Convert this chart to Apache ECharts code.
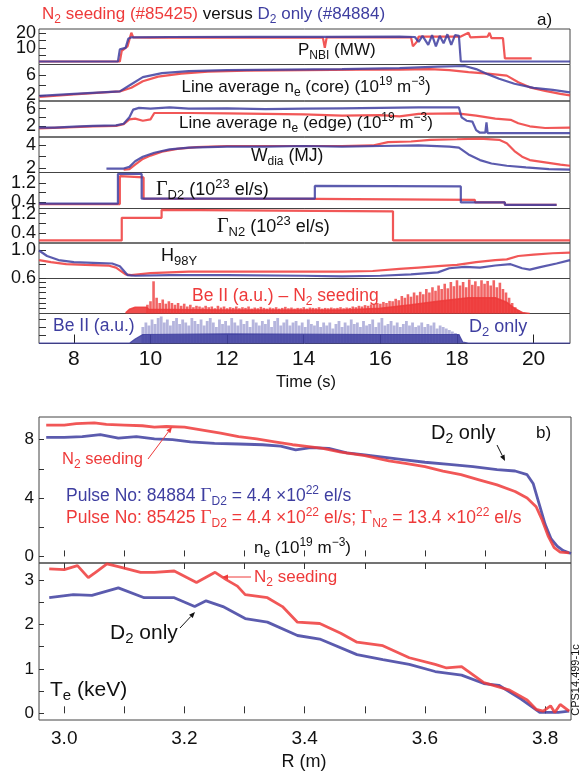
<!DOCTYPE html>
<html>
<head>
<meta charset="utf-8">
<script src="https://cdn.jsdelivr.net/npm/echarts@6/dist/echarts.min.js"></script>
<style>html,body{margin:0;padding:0;background:#fff}#container{width:581px;height:774px}</style>
</head>
<body>
<div id="container"></div>
<script>
// colours of the two pulses
var RED = '#ee3a3a';
var BLUE = '#3e3ea0';

// ---- panel a): time traces [t (s), value] ----
var pnbiRed = [[7.09,1],[9.2,1],[9.25,8],[9.4,11],[9.5,20],[9.55,17],[10,16.8],[11.5,17],[14.5,16.8],[14.55,10],[14.6,17],[16.8,17],[16.85,11],[16.95,14],[17.0,17.5],[18.1,17.5],[18.3,20],[18.35,17],[18.8,17.5],[18.85,20],[18.9,16.5],[19.2,16.5],[19.25,3],[19.95,3]];
var pnbiBlue = [[7.09,1],[9.15,1],[9.2,9],[9.35,10],[9.42,16],[9.5,17],[10.5,17.2],[12.6,17.3],[14.5,17.3],[16.5,17.5],[16.9,17.2],[17.0,14],[17.1,18],[17.25,12],[17.35,18.5],[17.45,11],[17.55,18],[17.65,13],[17.75,19],[17.85,12],[17.95,18.5],[18.05,18],[18.1,1],[20.95,1]];

var coreRed = [[7.1,1.7],[8,2.2],[9.2,2.8],[9.5,3.5],[9.8,4.8],[10.2,5.7],[10.8,6.3],[11.5,6.7],[12.5,6.9],[14,7.0],[15.5,7.1],[16.5,7.1],[17.3,7.2],[17.8,7.0],[18.3,6.6],[18.8,6.3],[19.3,5.9],[19.6,4.6],[19.9,3.6],[20.3,2.9],[20.7,2.3],[20.95,2.0]];
var coreBlue = [[7.1,1.9],[8,2.3],[9.2,2.8],[9.5,4.2],[9.8,5.6],[10.3,6.4],[11,6.8],[12,7.0],[13.5,7.1],[15,7.2],[16.5,7.4],[17.5,7.7],[18.2,7.8],[18.5,7.2],[18.8,6.2],[19.1,5.3],[19.5,4.3],[20,3.5],[20.5,3.1],[20.95,2.6]];

var edgeRed = [[7.09,1.4],[8,1.7],[8.5,1.9],[9.1,2.0],[9.3,2.4],[9.45,3.5],[9.6,3.7],[9.8,3.2],[10,3.5],[10.1,5.0],[11,5.0],[12,4.9],[13,4.8],[14,4.7],[15,4.4],[16,4.5],[16.5,4.2],[17,4.8],[18,4.9],[18.5,4.4],[19,3.7],[19.4,3.4],[19.6,2.6],[19.9,1.9],[20.3,1.5],[20.95,1.6]];
var edgeBlue = [[7.09,1.6],[7.5,1.6],[8,1.8],[8.5,2.0],[9.1,2.1],[9.3,2.5],[9.45,4],[9.55,5.8],[9.7,6.2],[10,6.0],[10.5,6.3],[11,6.0],[12,6.1],[13,5.9],[14,6.0],[15,6.1],[16,6.2],[17,6.3],[18.05,6.3],[18.12,4.0],[18.25,3.2],[18.4,3.0],[18.5,1.0],[18.6,0.4],[18.74,0.4],[18.77,2.8],[18.8,0.3],[20.95,0.3]];

var wdiaRed = [[9.3,1.85],[9.45,1.9],[9.6,2.3],[9.8,2.8],[10,3.1],[10.3,3.45],[10.7,3.7],[11.2,3.85],[12,3.95],[13,3.95],[14,3.95],[15,3.95],[15.8,4.0],[16.2,4.3],[16.8,4.35],[17.3,4.5],[18,4.55],[18.6,4.6],[19.1,4.5],[19.3,4.2],[19.5,3.5],[19.7,3.0],[19.9,2.7],[20.3,2.5],[20.7,2.3],[20.95,2.2]];
var wdiaBlue = [[8.85,1.95],[9.3,1.95],[9.45,2.1],[9.6,2.6],[9.8,3.0],[10.1,3.35],[10.5,3.65],[11,3.8],[12,3.9],[13,3.9],[14,3.95],[15,3.9],[16,3.95],[17,4.0],[17.8,3.9],[18.05,3.8],[18.3,3.2],[18.6,2.7],[18.9,2.4],[19.3,2.2],[19.8,2.05],[20.4,1.9],[20.95,1.85]];

var gD2Red = [[7.09,0.33],[9.2,0.33],[9.2,1.47],[9.82,1.42],[9.82,0.55],[14.3,0.54],[18.47,0.5],[18.47,0.4],[19.25,0.4],[19.25,0.3],[20.6,0.3]];
var gD2Blue = [[7.09,0.35],[9.15,0.35],[9.15,1.56],[9.77,1.56],[9.77,0.55],[14.29,0.55],[14.29,1.07],[18.1,1.05],[18.1,0.4],[19.25,0.4],[19.25,0.3],[20.6,0.3]];

var gN2Red = [[7.09,0.08],[9.25,0.08],[9.25,1.03],[10.29,1.03],[10.29,1.36],[16.33,1.3],[16.33,0.08],[20.95,0.08]];

var h98Red = [[7.09,0.86],[7.4,0.83],[7.8,0.8],[8.3,0.79],[8.9,0.78],[9.1,0.75],[9.35,0.65],[9.5,0.64],[10,0.67],[11,0.69],[12,0.69],[13,0.69],[14,0.69],[15,0.69],[15.8,0.7],[16.5,0.73],[17,0.75],[17.5,0.77],[18,0.79],[18.5,0.83],[19,0.86],[19.3,0.87],[19.6,0.92],[20,0.94],[20.5,0.96],[20.95,0.97]];
var h98Blue = [[7.09,1.0],[7.3,0.92],[7.6,0.86],[8.0,0.83],[8.5,0.82],[9.0,0.81],[9.2,0.77],[9.4,0.64],[9.6,0.63],[10.5,0.64],[12,0.64],[14,0.63],[15,0.62],[16,0.63],[16.8,0.65],[17.5,0.68],[17.8,0.74],[18.2,0.76],[18.6,0.75],[19.0,0.78],[19.4,0.8],[19.7,0.74],[19.9,0.72],[20.2,0.76],[20.6,0.81],[20.95,0.86]];

// Be II: dense floor + spikes (spikes sampled every 0.08 s)
var beRedFloor = [[9.35,0.02],[9.45,0.12],[9.6,0.18],[9.9,0.18],[9.95,0.12],[12,0.1],[15,0.1],[16,0.15],[16.8,0.25],[17.5,0.35],[18.3,0.45],[19,0.45],[19.3,0.32],[19.5,0.15],[19.7,0.03],[19.9,0]];
var beRedStart = 9.92;
var beRedSpikes = [
  0.25,0.35,0.92,0.45,0.3,0.4,0.28,0.35,0.3,0.25,
  0.3,0.22,0.28,0.2,0.25,0.18,0.22,0.2,0.17,0.22,
  0.18,0.2,0.15,0.22,0.17,0.2,0.15,0.18,0.16,0.2,
  0.15,0.18,0.16,0.2,0.14,0.17,0.15,0.19,0.16,0.14,
  0.17,0.15,0.18,0.14,0.16,0.19,0.15,0.17,0.14,0.16,
  0.15,0.18,0.14,0.17,0.16,0.15,0.18,0.14,0.16,0.15,
  0.17,0.15,0.16,0.18,0.15,0.17,0.16,0.2,0.18,0.22,
  0.2,0.24,0.22,0.26,0.25,0.3,0.28,0.33,0.3,0.36,
  0.35,0.42,0.38,0.5,0.45,0.55,0.48,0.6,0.52,0.62,
  0.55,0.7,0.6,0.75,0.65,0.8,0.7,0.85,0.72,0.9,
  0.78,0.95,0.8,0.9,0.75,0.97,0.82,0.92,0.78,0.95,
  0.85,0.93,0.8,0.95,0.75,0.88,0.7,0.6,0.45,0.3,
  0.18,0.1,0.05
];
var beBlueFloor = [[7.09,0.01],[9.45,0.01],[9.6,0.15],[9.8,0.3],[12,0.32],[16,0.3],[18.05,0.3],[18.15,0.05],[18.3,0.01],[20.95,0.01]];
var beBlueStart = 9.8;
var beBlueSpikes = [
  0.55,0.7,0.6,0.8,0.65,0.85,0.9,0.7,0.8,0.6,
  0.75,0.85,0.65,0.8,0.7,0.6,0.85,0.75,0.65,0.8,
  0.6,0.75,0.85,0.7,0.55,0.8,0.65,0.75,0.6,0.85,
  0.7,0.6,0.8,0.65,0.75,0.55,0.8,0.7,0.6,0.75,
  0.65,0.8,0.55,0.75,0.85,0.6,0.7,0.8,0.6,0.7,
  0.75,0.6,0.7,0.55,0.8,0.65,0.6,0.75,0.55,0.7,
  0.6,0.7,0.5,0.65,0.75,0.55,0.7,0.6,0.8,0.65,
  0.7,0.55,0.75,0.6,0.65,0.8,0.55,0.7,0.85,0.6,
  0.65,0.75,0.6,0.7,0.55,0.65,0.75,0.6,0.7,0.55,
  0.6,0.7,0.55,0.65,0.6,0.7,0.5,0.6,0.55,0.5,
  0.45,0.4,0.35,0.3
];
var spikeStep = 0.08;

// ---- panel b): profiles [R (m), value] ----
var neRed = [[2.97,9.0],[3.0,9.0],[3.02,9.1],[3.05,9.15],[3.07,9.05],[3.1,9.0],[3.13,8.95],[3.15,8.85],[3.17,8.9],[3.2,8.85],[3.23,8.65],[3.26,8.45],[3.29,8.2],[3.32,8.05],[3.35,7.85],[3.38,7.65],[3.4,7.55],[3.43,7.4],[3.46,7.15],[3.5,6.9],[3.54,6.55],[3.57,6.35],[3.6,6.15],[3.63,5.85],[3.66,5.6],[3.69,5.25],[3.72,4.9],[3.75,4.45],[3.77,4.0],[3.785,3.4],[3.795,2.5],[3.805,1.4],[3.815,0.6],[3.825,0.3],[3.84,0.25]];
var neBlue = [[2.97,8.15],[3.0,8.15],[3.03,8.2],[3.06,8.35],[3.09,8.1],[3.12,8.2],[3.15,8.05],[3.18,8.0],[3.21,7.85],[3.25,7.75],[3.29,7.7],[3.33,7.65],[3.36,7.55],[3.385,7.3],[3.41,7.45],[3.44,7.4],[3.47,7.1],[3.5,6.95],[3.53,6.8],[3.56,6.65],[3.6,6.45],[3.64,6.3],[3.68,6.15],[3.72,5.95],[3.75,5.85],[3.77,5.6],[3.78,5.0],[3.79,3.6],[3.8,2.2],[3.81,1.2],[3.82,0.7],[3.83,0.4],[3.843,0.2]];
var teRed = [[2.975,3.25],[3.0,3.23],[3.022,3.32],[3.04,3.05],[3.055,3.2],[3.071,3.36],[3.09,3.3],[3.127,3.17],[3.15,3.17],[3.183,3.2],[3.22,2.94],[3.251,3.17],[3.27,3.0],[3.288,2.86],[3.301,2.67],[3.338,2.6],[3.363,2.4],[3.388,2.05],[3.425,2.02],[3.46,1.8],[3.487,1.6],[3.53,1.52],[3.574,1.25],[3.617,1.1],[3.636,1.02],[3.661,1.05],[3.698,0.69],[3.741,0.52],[3.77,0.3],[3.785,0.09],[3.797,0.05],[3.809,0.17],[3.816,0.02],[3.825,0.2],[3.84,0.05]];
var teBlue = [[2.975,2.6],[3.015,2.67],[3.046,2.65],[3.09,2.82],[3.133,2.6],[3.183,2.6],[3.217,2.4],[3.236,2.53],[3.264,2.4],[3.301,2.13],[3.338,2.05],[3.388,1.75],[3.425,1.67],[3.487,1.32],[3.53,1.21],[3.574,1.1],[3.617,0.94],[3.661,0.86],[3.698,0.67],[3.723,0.63],[3.76,0.32],[3.791,0.02],[3.822,0.02],[3.84,0.05]];

// tick values
var timeTicks = [8,10,12,14,16,18,20];
var rTicks = [3.0,3.1,3.2,3.3,3.4,3.5,3.6,3.7,3.8];
var rLabels = [3.0,3.2,3.4,3.6,3.8];

var FONT = 'Liberation Sans';

//图表初始化
var dom = document.getElementById('container');
var myChart = echarts.init(dom, null, {renderer: 'canvas'});

// grid boxes of panel a (top, height in px)
var aGrids = [[29,35.5],[64.5,36.5],[101,36],[137,35.5],[172.5,36],[208.5,34.5],[243,35.5],[278.5,35],[313.5,30]];
var aY = [
  {min:-1, max:22.5, ticks:[5,10,15,20], labels:[10,20], fmt:0},
  {min:0.9, max:8.1, ticks:[2,4,6], labels:[2,6], fmt:0},
  {min:-0.6, max:7.8, ticks:[2,4,6], labels:[2,6], fmt:0},
  {min:1.6, max:4.75, ticks:[2,3,4], labels:[2,4], fmt:0},
  {min:0.15, max:1.62, ticks:[0.4,0.8,1.2], labels:[0.4,1.2], fmt:1},
  {min:-0.03, max:1.42, ticks:[0.4,0.8,1.2], labels:[0.4,1.2], fmt:1},
  {min:0.59, max:1.11, ticks:[0.6,0.8,1.0], labels:[0.6,1.0], fmt:1},
  {min:0, max:1, ticks:[0.15,0.3,0.45,0.6,0.75,0.9], labels:[], fmt:0},
  {min:0, max:1, ticks:[0.27,0.55,0.82], labels:[], fmt:0}
];

var grids = [], xAxes = [], yAxes = [], labelAxes = [], series = [];

aGrids.forEach(function (g, i) {
  grids.push({left: 39, width: 531, top: g[0], height: g[1], show: true, borderColor: '#444', borderWidth: 1, outerBoundsMode: 'none'});
  var last = i === aGrids.length - 1;
  xAxes.push({
    type: 'value', gridIndex: i, min: 7.09, max: 20.95,
    axisLine: {show: false}, splitLine: {show: false},
    axisTick: {show: last, inside: true, length: 9, lineStyle: {color: '#222'}, customValues: timeTicks},
    axisLabel: {show: last, customValues: timeTicks, fontSize: 21, color: '#111', fontFamily: FONT, margin: 5}
  });
  var c = aY[i];
  // main axis: ticks only
  yAxes.push({
    type: 'value', gridIndex: i, position: 'left', min: c.min, max: c.max,
    axisLine: {show: false}, splitLine: {show: false},
    axisTick: {inside: true, length: 7, lineStyle: {color: '#333'}, customValues: c.ticks},
    axisLabel: {show: false}
  });
  // one extra axis per label so that close labels are not dropped
  c.labels.forEach(function (v) {
    labelAxes.push({
      type: 'value', gridIndex: i, position: 'left', offset: 0, min: c.min, max: c.max,
      axisLine: {show: false}, splitLine: {show: false}, axisTick: {show: false},
      axisLabel: {customValues: [v], fontSize: 18, color: '#111', fontFamily: FONT, margin: 3,
        formatter: function (x) { return c.fmt ? x.toFixed(c.fmt) : String(x); }}
    });
  });
});

// panel b grids
grids.push({left: 39, width: 532, top: 417, height: 146, show: true, borderColor: '#444', borderWidth: 1, outerBoundsMode: 'none'});
grids.push({left: 39, width: 532, top: 563, height: 157, show: true, borderColor: '#444', borderWidth: 1, outerBoundsMode: 'none'});
xAxes.push({
  type: 'value', gridIndex: 9, min: 2.958, max: 3.843,
  axisLine: {show: false}, splitLine: {show: false},
  axisTick: {inside: true, length: 6, lineStyle: {color: '#333'}, customValues: rTicks},
  axisLabel: {show: false}
});
xAxes.push({
  type: 'value', gridIndex: 10, min: 2.958, max: 3.843,
  axisLine: {show: false}, splitLine: {show: false},
  axisTick: {inside: true, length: 7, lineStyle: {color: '#333'}, customValues: rTicks},
  axisLabel: {customValues: rLabels, fontSize: 19, color: '#111', fontFamily: FONT, margin: 9,
    formatter: function (v) { return v.toFixed(1); }}
});
xAxes.push({
  type: 'value', gridIndex: 10, position: 'top', min: 2.958, max: 3.843,
  axisLine: {show: false}, splitLine: {show: false},
  axisTick: {inside: true, length: 6, lineStyle: {color: '#333'}, customValues: rTicks},
  axisLabel: {show: false}
});
yAxes.push({
  type: 'value', gridIndex: 9, min: -0.45, max: 9.55,
  axisLine: {show: false}, splitLine: {show: false},
  axisTick: {inside: true, length: 5, lineStyle: {color: '#333'}, customValues: [0,2,4,6,8]},
  axisLabel: {customValues: [0,4,8], fontSize: 17, color: '#111', fontFamily: FONT, margin: 5}
});
yAxes.push({
  type: 'value', gridIndex: 10, min: -0.15, max: 3.38,
  axisLine: {show: false}, splitLine: {show: false},
  axisTick: {inside: true, length: 5, lineStyle: {color: '#333'}, customValues: [0,0.5,1,1.5,2,2.5,3]},
  axisLabel: {customValues: [0,1,2,3], fontSize: 17, color: '#111', fontFamily: FONT, margin: 5}
});
yAxes = yAxes.concat(labelAxes);

function line(data, color, xi, yi, w) {
  return {type: 'line', data: data, xAxisIndex: xi, yAxisIndex: yi, showSymbol: false, silent: true,
    lineStyle: {color: color, width: w || 2.2, opacity: 0.85}, itemStyle: {color: color}};
}
function spikes(start, hs) {
  return hs.map(function (h, i) { return [+(start + i * spikeStep).toFixed(3), h]; });
}

series.push(line(pnbiRed, RED, 0, 0), line(pnbiBlue, BLUE, 0, 0));
series.push(line(coreRed, RED, 1, 1), line(coreBlue, BLUE, 1, 1));
series.push(line(edgeRed, RED, 2, 2), line(edgeBlue, BLUE, 2, 2));
series.push(line(wdiaRed, RED, 3, 3), line(wdiaBlue, BLUE, 3, 3));
series.push(line(gD2Red, RED, 4, 4), line(gD2Blue, BLUE, 4, 4));
series.push(line(gN2Red, RED, 5, 5));
series.push(line(h98Red, RED, 6, 6), line(h98Blue, BLUE, 6, 6));

var redFloor = line(beRedFloor, RED, 7, 7, 1.5);
redFloor.areaStyle = {color: RED, opacity: 0.9};
series.push(redFloor);
series.push({type: 'bar', data: spikes(beRedStart, beRedSpikes), xAxisIndex: 7, yAxisIndex: 7, barWidth: 2.6, silent: true,
  itemStyle: {color: 'rgba(236,40,40,0.72)'}});
var blueFloor = line(beBlueFloor, BLUE, 8, 8, 1.2);
blueFloor.areaStyle = {color: BLUE, opacity: 0.85};
series.push(blueFloor);
series.push({type: 'bar', data: spikes(beBlueStart, beBlueSpikes), xAxisIndex: 8, yAxisIndex: 8, barWidth: 2.8, silent: true,
  itemStyle: {color: 'rgba(90,90,180,0.45)'}});

series.push(line(neBlue, BLUE, 9, 9, 2.8), line(neRed, RED, 9, 9, 2.8));
series.push(line(teBlue, BLUE, 10, 10, 2.8), line(teRed, RED, 10, 10, 2.8));

// rich text helpers for subscripts / superscripts
function rich(c, fs) {
  var sm = Math.round(fs * 0.7);
  return {
    n: {fill: c, fontSize: fs, fontFamily: FONT, lineHeight: fs + 6},
    s: {fill: c, fontSize: sm, fontFamily: FONT, lineHeight: sm, verticalAlign: 'bottom'},
    p: {fill: c, fontSize: sm, fontFamily: FONT, lineHeight: sm, verticalAlign: 'top'},
    g: {fill: c, fontSize: fs + 2, fontFamily: 'Liberation Serif', lineHeight: fs + 6}
  };
}
function txt(x, y, text, c, fs, align) {
  return {type: 'text', x: x, y: y, silent: true, z: 100,
    style: {text: text, fill: c, fontSize: fs, fontFamily: FONT, lineHeight: fs + 6,
      align: align || 'left', verticalAlign: 'middle', rich: rich(c, fs)}};
}
function arrow(x1, y1, x2, y2, c) {
  var a = Math.atan2(y2 - y1, x2 - x1), L = 6, W = 2.5;
  var bx = x2 - L * Math.cos(a), by = y2 - L * Math.sin(a);
  return [
    {type: 'line', silent: true, z: 100, shape: {x1: x1, y1: y1, x2: bx, y2: by}, style: {stroke: c, lineWidth: 1}},
    {type: 'polygon', silent: true, z: 100, shape: {points: [[x2, y2], [bx - W * Math.sin(a), by + W * Math.cos(a)], [bx + W * Math.sin(a), by - W * Math.cos(a)]]}, style: {fill: c}}
  ];
}

var title = {type: 'text', x: 42, y: 14, silent: true, z: 100,
  style: {text: '{r|N}{rs|2}{r| seeding (#85425)}{k| versus }{b|D}{bs|2}{b| only (#84884)}', verticalAlign: 'middle',
    rich: {
      r: {fill: RED, fontSize: 17, fontFamily: FONT, lineHeight: 23},
      rs: {fill: RED, fontSize: 12, fontFamily: FONT, lineHeight: 12, verticalAlign: 'bottom'},
      k: {fill: '#111', fontSize: 17, fontFamily: FONT, lineHeight: 23},
      b: {fill: BLUE, fontSize: 17, fontFamily: FONT, lineHeight: 23},
      bs: {fill: BLUE, fontSize: 12, fontFamily: FONT, lineHeight: 12, verticalAlign: 'bottom'}
    }}};

var K = '#111';
var graphics = [
  title,
  txt(537, 20, '{n|a)}', K, 17),
  txt(298, 50, '{n|P}{s|NBI}{n| (MW)}', K, 17),
  txt(306, 87, '{n|Line average n}{s|e}{n| (core) (10}{p|19}{n| m}{p|−3}{n|)}', K, 17, 'center'),
  txt(306, 123, '{n|Line average n}{s|e}{n| (edge) (10}{p|19}{n| m}{p|−3}{n|)}', K, 17, 'center'),
  txt(251, 156, '{n|W}{s|dia}{n| (MJ)}', K, 17.5),
  txt(156, 190, '{g|Γ}{s|D2}{n| (10}{p|23}{n| el/s)}', K, 18),
  txt(217, 227, '{g|Γ}{s|N2}{n| (10}{p|23}{n| el/s)}', K, 18),
  txt(161, 256, '{n|H}{s|98Y}', K, 18),
  txt(192, 296, '{n|Be II (a.u.) – N}{s|2}{n| seeding}', RED, 17.5),
  txt(53, 326, '{n|Be II (a.u.)}', BLUE, 17.5),
  txt(469, 327, '{n|D}{s|2}{n| only}', BLUE, 18),
  txt(306, 382, '{n|Time (s)}', K, 16.5, 'center'),
  txt(536, 433, '{n|b)}', K, 17),
  txt(431, 433, '{n|D}{s|2}{n| only}', K, 20),
  txt(62, 459, '{n|N}{s|2}{n| seeding}', RED, 16.5),
  txt(66, 496, '{n|Pulse No: 84884 }{g|Γ}{s|D2}{n| = 4.4 ×10}{p|22}{n| el/s}', BLUE, 17.5),
  txt(66, 518, '{n|Pulse No: 85425 }{g|Γ}{s|D2}{n| = 4.4 ×10}{p|22}{n| el/s; }{g|Γ}{s|N2}{n| = 13.4 ×10}{p|22}{n| el/s}', RED, 17.5),
  txt(254, 548, '{n|n}{s|e}{n| (10}{p|19}{n| m}{p|−3}{n|)}', K, 17),
  txt(254, 577, '{n|N}{s|2}{n| seeding}', RED, 17),
  txt(110, 633, '{n|D}{s|2}{n| only}', K, 21),
  txt(50, 690, '{n|T}{s|e}{n| (keV)}', K, 21),
  txt(304, 762, '{n|R (m)}', K, 18, 'center'),
  {type: 'text', x: 576, y: 680, rotation: Math.PI / 2, silent: true, z: 100,
    style: {text: 'CPS14.499-1c', fill: K, fontSize: 11, fontFamily: FONT, align: 'center', verticalAlign: 'middle'}}
];
graphics = graphics
  .concat(arrow(497, 445, 505, 461, K))
  .concat(arrow(148, 459, 172, 427, RED))
  .concat(arrow(251, 577, 222, 577, RED))
  .concat(arrow(180, 628, 195, 612, K));

var option = {
  animation: false,
  backgroundColor: '#fff',
  grid: grids,
  xAxis: xAxes,
  yAxis: yAxes,
  series: series,
  graphic: graphics
};

myChart.setOption(option);
window.addEventListener('resize', myChart.resize);
</script>
</body>
</html>
